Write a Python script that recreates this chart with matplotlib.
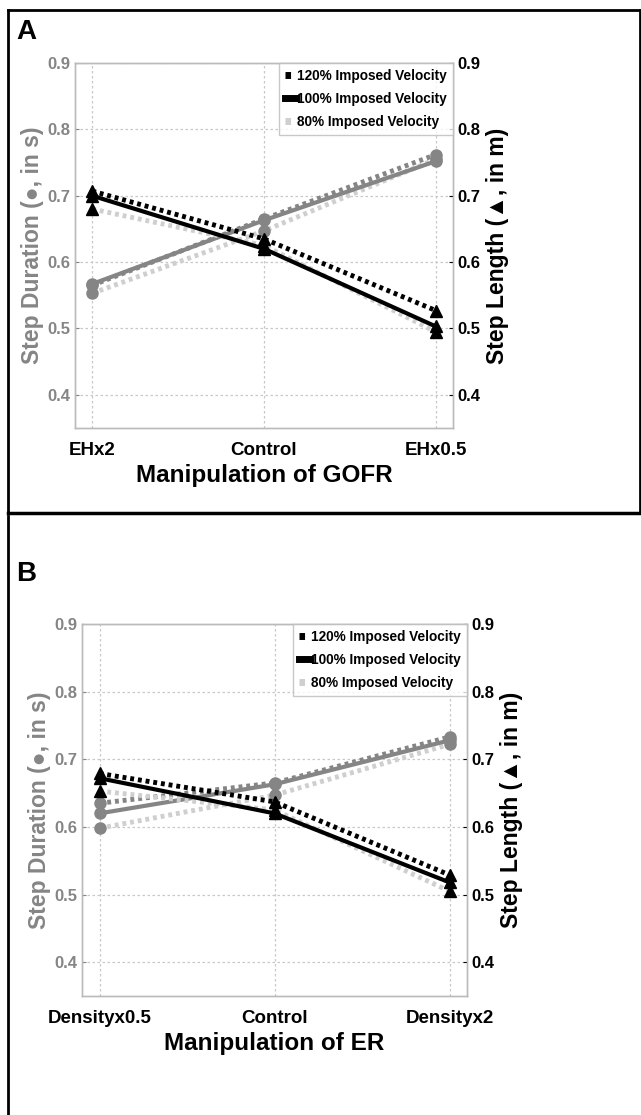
import numpy as np
import matplotlib
matplotlib.use("Agg")
import matplotlib.pyplot as plt
from matplotlib.lines import Line2D

plt.rcParams['font.family'] = ['Liberation Sans', 'DejaVu Sans']
plt.rcParams['font.weight'] = 'bold'

# Panel A: manipulation of GOFR
cats_a = ['EHx2', 'Control', 'EHx0.5']
dur_a_120 = [0.565, 0.665, 0.762]
dur_a_100 = [0.567, 0.663, 0.752]
dur_a_80 = [0.553, 0.647, 0.755]
len_a_120 = [0.707, 0.635, 0.527]
len_a_100 = [0.700, 0.620, 0.503]
len_a_80 = [0.680, 0.625, 0.495]

# Panel B: manipulation of ER
cats_b = ['Densityx0.5', 'Control', 'Densityx2']
dur_b_120 = [0.635, 0.665, 0.733]
dur_b_100 = [0.620, 0.663, 0.728]
dur_b_80 = [0.598, 0.647, 0.722]
len_b_120 = [0.679, 0.637, 0.529]
len_b_100 = [0.672, 0.620, 0.518]
len_b_80 = [0.653, 0.625, 0.505]

labels = ['120% Imposed Velocity', '100% Imposed Velocity', '80% Imposed Velocity']

GRAY = '#858585'
LIGHT = '#cfcfcf'
DOT = (0, (0.8, 0.8))


def panel(fig, rect, cats, dur, leng, xlabel, letter, letter_xy):
    ax = fig.add_axes(rect)
    ax2 = ax.twinx()
    x = np.arange(1, len(cats) + 1)
    # step duration (left axis, circles)
    d120, d100, d80 = dur
    ax.plot(x, d80, color=LIGHT, ls=DOT, lw=3.5, marker='o', ms=8, mfc=GRAY, mec=GRAY)
    ax.plot(x, d100, color=GRAY, ls='-', lw=3, marker='o', ms=8, mfc=GRAY, mec=GRAY)
    ax.plot(x, d120, color=GRAY, ls=DOT, lw=3.5, marker='o', ms=8, mfc=GRAY, mec=GRAY)
    # step length (right axis, triangles)
    l120, l100, l80 = leng
    h80, = ax2.plot(x, l80, color=LIGHT, ls=DOT, lw=3.5, marker='^', ms=9, mfc='k', mec='k')
    h100, = ax2.plot(x, l100, color='k', ls='-', lw=3, marker='^', ms=9, mfc='k', mec='k')
    h120, = ax2.plot(x, l120, color='k', ls=DOT, lw=3.5, marker='^', ms=9, mfc='k', mec='k')

    for a in (ax, ax2):
        a.set_ylim(0.35, 0.9)
        a.set_xlim(0.9, 3.1)
        a.set_yticks([0.4, 0.5, 0.6, 0.7, 0.8, 0.9])
        for s in a.spines.values():
            s.set_color('#bbbbbb')
            s.set_linewidth(1)
    ax.set_xticks(x)
    ax.set_xticklabels(cats, fontsize=13.5, fontweight='bold')
    ax.tick_params(axis='x', length=0, pad=10)
    ax.tick_params(axis='y', colors=GRAY, labelsize=12, length=3, direction='in')
    ax2.tick_params(axis='y', colors='k', labelsize=12, length=3, direction='in')
    for t in ax.get_yticklabels():
        t.set_color(GRAY)
        t.set_fontweight('bold')
    for t in ax2.get_yticklabels():
        t.set_fontweight('bold')
    ax.grid(True, color='#c8c8c8', ls=(0, (2, 2)), lw=0.9)
    ax.set_ylabel('Step Duration (\u25cf, in s)', color=GRAY, fontsize=16.5, fontweight='bold', labelpad=2)
    ax2.set_ylabel('Step Length (\u25b2, in m)', color='k', fontsize=16.5, fontweight='bold', labelpad=4)
    ax.set_xlabel(xlabel, fontsize=17.5, fontweight='bold', labelpad=4)

    leg = ax2.legend([h120, h100, h80], labels, loc='upper right', fontsize=9.8,
                     handlelength=0.8, handletextpad=0.1, borderaxespad=0.0,
                     frameon=True, fancybox=False, borderpad=0.45, labelspacing=0.65)
    leg.get_frame().set_edgecolor('#bbbbbb')
    leg.get_frame().set_linewidth(1)
    for t in leg.get_texts():
        t.set_fontweight('bold')
    for h in leg.legend_handles:
        h.set_marker('')
        h.set_linewidth(5)

    fig.text(letter_xy[0], letter_xy[1], letter, fontsize=20, fontweight='bold',
             ha='left', va='top', family='Liberation Sans')
    return ax, ax2


W, H = 641, 1115
fig = plt.figure(figsize=(W / 100, H / 100), dpi=100)

panel(fig, [75 / W, 1 - 428 / H, (453 - 75) / W, (428 - 63) / H],
      cats_a, (dur_a_120, dur_a_100, dur_a_80), (len_a_120, len_a_100, len_a_80),
      'Manipulation of GOFR', 'A', (16 / W, 1 - 19 / H))
panel(fig, [82 / W, 1 - 996 / H, (467 - 82) / W, (996 - 624) / H],
      cats_b, (dur_b_120, dur_b_100, dur_b_80), (len_b_120, len_b_100, len_b_80),
      'Manipulation of ER', 'B', (16 / W, 1 - 561 / H))


def fline(x0, y0, x1, y1, lw=2.0):
    fig.add_artist(Line2D([x0 / W, x1 / W], [1 - y0 / H, 1 - y1 / H], color='k', lw=lw,
                          transform=fig.transFigure))

# panel frames
fline(8, 10, 640, 10)
fline(8, 10, 8, 512)
fline(640, 10, 640, 512)
fline(8, 513, 641, 513, lw=2.5)
fline(8, 516, 8, 1115)

fig.savefig('out.png', dpi=100)
